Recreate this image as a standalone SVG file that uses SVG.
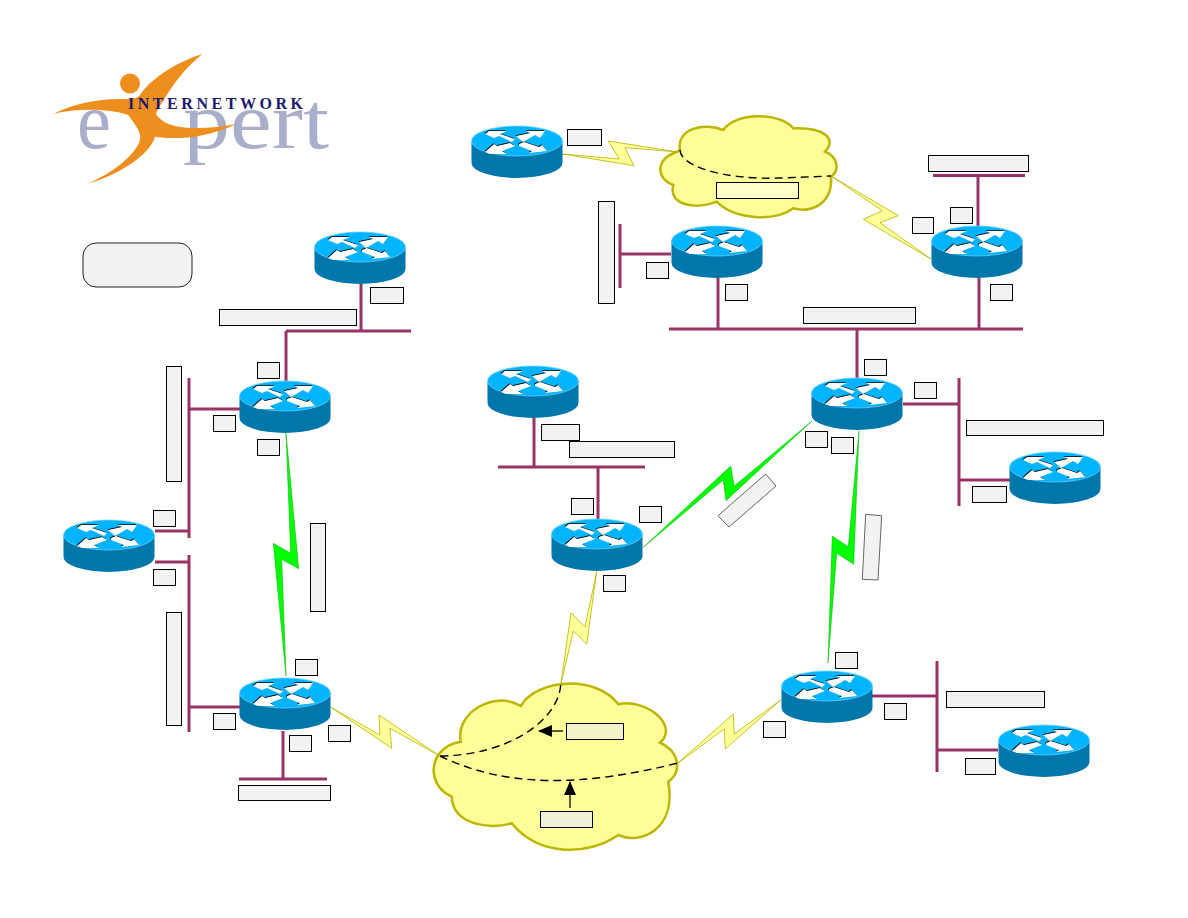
<svg xmlns="http://www.w3.org/2000/svg" xmlns:xlink="http://www.w3.org/1999/xlink" width="1188" height="918" viewBox="0 0 1188 918">
<style>
.lan{fill:none;stroke:#993366;stroke-width:3}
.lab{fill:url(#grid);stroke:#000;stroke-width:1}
.tilt{fill:#f2f2f2;stroke:#666;stroke-width:1}
.note{stroke:#000;stroke-width:1}
.wan{fill:#ffff99;stroke:#b5b500;stroke-width:.8}
.fast{fill:#00ff00;stroke:#00a800;stroke-width:.5}
.cloud{fill:#ffff99;stroke:#bdb500;stroke-width:2.5}
.vc{fill:none;stroke:#000;stroke-width:1.4;stroke-dasharray:8 5}
.ptr{stroke:#000;stroke-width:1.3;marker-end:url(#head)}
.serif{font-family:"Liberation Serif","Times New Roman",serif}
</style>
<defs>
<pattern id="grid" width="8" height="8" patternUnits="userSpaceOnUse">
<rect width="8" height="8" fill="#f3f3f3"/>
<path d="M8,0V8M0,8H8" stroke="#ececec" stroke-width="1" fill="none"/>
</pattern>
<marker id="head" markerUnits="userSpaceOnUse" markerWidth="14" markerHeight="12" refX="13" refY="6" orient="auto">
<path d="M0,0L14,6L0,12Z" fill="#000"/>
</marker>
<g id="arrows">
<polygon points="-32,-7 -28,-10 -10,-10 -17,-7 -2,-2 -5,1 -18,-5 -23,-3"/>
<polygon points="-1,-5 13,-8 9,-10 28,-10 23,-3 18,-6 6,1"/>
<polygon points="-32,11 -23,3 -20,5 -7,2 -2,5 -15,10 -10,13 -27,13"/>
<polygon points="2,3 7,1 22,6 25,4 30,10 12,12 15,10 2,5"/>
</g>
<g id="router">
<path d="M-45.500,0V22A45.500,15 0 0 0 45.500,22V0Z" fill="#0077aa"/>
<ellipse rx="45.500" ry="15" fill="#00b4ff" stroke="#66d2ff" stroke-width=".8"/>
<use href="#arrows" x="-.6" y="-.8" fill="#000"/>
<use href="#arrows" fill="#fff"/>
</g>
</defs>

<!-- company logo -->
<g id="logo">
<text class="serif" x="77" y="148" font-size="80" fill="#a9aecb" textLength="34" lengthAdjust="spacingAndGlyphs">e</text>
<text class="serif" x="183" y="148" font-size="80" fill="#a9aecb" textLength="146" lengthAdjust="spacingAndGlyphs">pert</text>
<circle cx="130" cy="83.500" r="10" fill="#ee8e1c"/>
<path transform="translate(40,40) scale(.3333)" fill="#ee8e1c" d="M487,42C400,70 330,120 300,165C290,178 270,178 250,177C170,175 90,195 40,222C110,205 200,205 265,225C290,260 305,280 300,300C290,340 220,400 140,432C250,400 330,340 345,290C400,300 500,295 590,252C500,270 400,270 365,240C355,230 345,225 350,215C400,130 430,90 487,42Z"/>
<text class="serif" x="128" y="109.300" font-size="16" font-weight="700" fill="#1a1a6e" textLength="175">INTERNETWORK</text>
</g>

<rect id="legend" x="83" y="243" width="109" height="44" rx="13" fill="#f2f2f2" stroke="#222" stroke-width="1"/>

<!-- frame relay clouds -->
<g id="cloud-top">
<path class="cloud" d="M680,150.700C676,128 705,122 723.300,130C735,112 780,112 793.300,128.300C822,127 838,138 825,151.700C838,157 840,170 831,176.700C833,205 810,213 793.300,208.300C775,222 735,220 716.700,201.700C695,210 668,205 673.300,185C655,178 655,158 680,150.700Z"/>
</g>
<g id="cloud-bottom">
<path class="cloud" d="M460.700,741.700C455,712 495,690 520.700,706C537,678 597,675 618.300,704.300C645,698 680,725 660,742.700C680,752 682,772 668.300,781.700C677,830 640,845 618.300,835C590,855 540,858 511.700,823.300C490,830 453,825 451.700,796.700C425,785 428,747 460.700,741.700Z"/>
</g>

<!-- connectors: ethernet segments, serial links, virtual circuits -->
<g id="connectors">
<path class="lan" d="M933,175.500H1025M978,175V228M669,329H1023M718,278V329M979,278V329M857,329V380"/>
<path class="lan" d="M620,224V288M620,254H671"/>
<path class="lan" d="M361,284V331M286,331H411M286,331V381"/>
<path class="lan" d="M189,378V538M189,409H240M155,531H189"/>
<path class="lan" d="M189,555V732M155,562H189M189,707H240"/>
<path class="lan" d="M283,731V779M239,779H327"/>
<path class="lan" d="M534,418V467M498,467H645M598,467V520"/>
<path class="lan" d="M903,404H959M959,378V506M959,480H1010"/>
<path class="lan" d="M872,696H937M937,661V772M937,750H998"/>

<polygon class="wan" points="562.700,154 634,165.700 625,147.700 678,152 608.300,141 619.300,159"/>
<polygon class="wan" points="831,176 898.300,215.700 880,222.700 931,259 863.300,219.300 882.300,210.700"/>
<polygon class="wan" points="596.700,571.700 586.700,644 573.300,631 560.700,685 571,612.700 585,626.700"/>
<polygon class="wan" points="331,707.300 391.700,748.300 390,728.300 439.300,755.700 379,715 380,735"/>
<polygon class="wan" points="676.700,764 733.300,714 734.300,734 780.700,700 725.300,749 724.300,729"/>

<polygon class="fast" points="286,433 298.700,568.700 281.700,559.300 286,676 273.300,543.300 290.700,553.300"/>
<polygon class="fast" points="859,431 853.700,564.300 836.700,553.300 828,663 832.300,536 848.300,546.700"/>
<polygon class="fast" points="812,421 726,500.700 723.300,480 643.300,547.300 730.700,466 734.300,486"/>

<path class="vc" d="M680,150C680,165 720,180 780,178L831,176"/>
<path class="vc" d="M560.700,685C558,720 510,755 440,756"/>
<path class="vc" d="M440,756C510,790 590,785 678,763"/>
<line class="ptr" x1="563" y1="731" x2="539" y2="731"/>
<line class="ptr" x1="570" y1="808" x2="570" y2="782"/>
</g>

<!-- routers -->
<g id="r1"><use href="#router" x="360" y="247"/></g>
<g id="r2"><use href="#router" x="285" y="396"/></g>
<g id="r3"><use href="#router" x="109" y="535"/></g>
<g id="r4"><use href="#router" x="285" y="693"/></g>
<g id="r5"><use href="#router" x="533" y="381"/></g>
<g id="r6"><use href="#router" x="597" y="534"/></g>
<g id="r7"><use href="#router" x="857" y="393"/></g>
<g id="r8"><use href="#router" x="1055" y="467"/></g>
<g id="r9"><use href="#router" x="827" y="686"/></g>
<g id="r10"><use href="#router" x="1044" y="740"/></g>
<g id="r11"><use href="#router" x="517" y="141"/></g>
<g id="r12"><use href="#router" x="717" y="241"/></g>
<g id="r13"><use href="#router" x="977" y="241"/></g>

<!-- address and interface plates -->
<g id="labels">
<rect class="lab" x="567.500" y="129.500" width="34" height="16"/>
<rect class="lab" x="928.500" y="155.500" width="100" height="16"/>
<rect class="lab" x="950.500" y="207.500" width="22" height="16"/>
<rect class="lab" x="912.500" y="217.500" width="21" height="16"/>
<rect class="lab" x="990.500" y="284.500" width="22" height="16"/>
<rect class="lab" x="725.500" y="284.500" width="22" height="16"/>
<rect class="lab" x="646.500" y="262.500" width="22" height="16"/>
<rect class="lab" x="598.500" y="201.500" width="16" height="102"/>
<rect class="note" x="716.500" y="182.500" width="82" height="16" fill="#ffffc8"/>
<rect class="lab" x="370.500" y="287.500" width="33" height="16"/>
<rect class="lab" x="219.500" y="309.500" width="137" height="16"/>
<rect class="lab" x="803.500" y="307.500" width="112" height="16"/>
<rect class="lab" x="864.500" y="359.500" width="22" height="16"/>
<rect class="lab" x="914.500" y="382.500" width="22" height="16"/>
<rect class="lab" x="257.500" y="362.500" width="22" height="16"/>
<rect class="lab" x="166.500" y="366.500" width="15" height="115"/>
<rect class="lab" x="213.500" y="415.500" width="22" height="16"/>
<rect class="lab" x="257.500" y="439.500" width="22" height="16"/>
<rect class="lab" x="153.500" y="510.500" width="22" height="16"/>
<rect class="lab" x="153.500" y="569.500" width="22" height="16"/>
<rect class="lab" x="166.500" y="612.500" width="15" height="113"/>
<rect class="lab" x="310.500" y="523.500" width="15" height="88"/>
<rect class="lab" x="295.500" y="659.500" width="22" height="16"/>
<rect class="lab" x="213.500" y="713.500" width="22" height="16"/>
<rect class="lab" x="328.500" y="725.500" width="22" height="16"/>
<rect class="lab" x="289.500" y="735.500" width="22" height="16"/>
<rect class="lab" x="238.500" y="785.500" width="92" height="15"/>
<rect class="lab" x="541.500" y="424.500" width="38" height="16"/>
<rect class="lab" x="569.500" y="441.500" width="105" height="16"/>
<rect class="lab" x="571.500" y="498.500" width="22" height="16"/>
<rect class="lab" x="639.500" y="506.500" width="22" height="16"/>
<rect class="lab" x="603.500" y="575.500" width="22" height="16"/>
<rect class="lab" x="805.500" y="431.500" width="22" height="16"/>
<rect class="lab" x="831.500" y="437.500" width="22" height="16"/>
<rect class="lab" x="966.500" y="420.500" width="137" height="15"/>
<rect class="lab" x="972.500" y="486.500" width="34" height="16"/>
<rect class="lab" x="835.500" y="652.500" width="22" height="16"/>
<rect class="lab" x="884.500" y="703.500" width="22" height="16"/>
<rect class="lab" x="763.500" y="721.500" width="22" height="16"/>
<rect class="lab" x="946.500" y="691.500" width="98" height="16"/>
<rect class="lab" x="965.500" y="758.500" width="30" height="16"/>
<rect class="note" x="566.500" y="723.500" width="57" height="16" fill="#f3f2c8"/>
<rect class="note" x="540.500" y="811.500" width="52" height="16" fill="#f1f1d8"/>
<polygon class="tilt" points="765.700,474 776,486 729,527 718,515.700"/>
<polygon class="tilt" points="865.700,514.300 881.700,515.700 878,580 862.300,579.300"/>
</g>
</svg>
